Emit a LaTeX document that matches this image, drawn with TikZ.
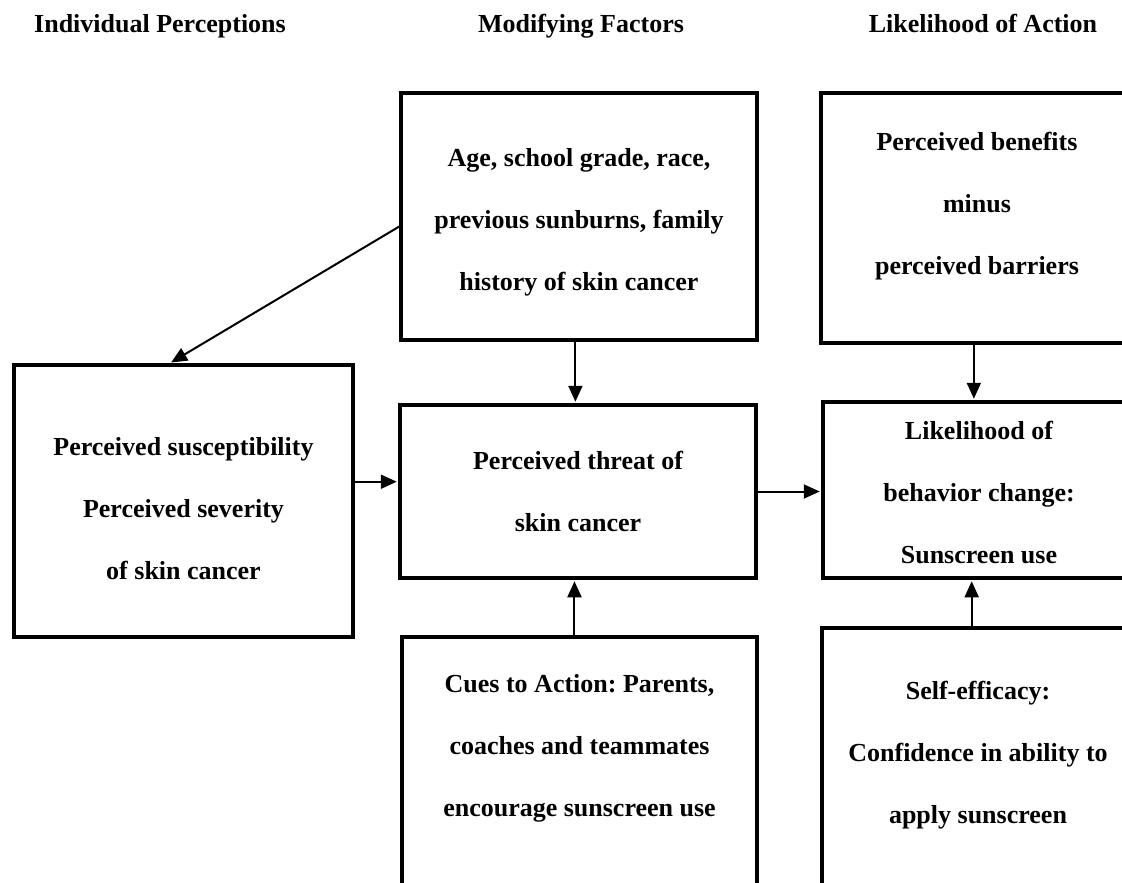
\documentclass[tikz,border=0pt]{standalone}
\usepackage{fontspec}
\setmainfont{Liberation Serif}
\usetikzlibrary{calc,arrows.meta}
\frenchspacing
\begin{document}
\begin{tikzpicture}[x=1pt,y=-1pt,
  txt/.style={font=\fontsize{26}{62}\selectfont\bfseries, align=center},
  box/.style={txt, draw, line width=3.5pt, inner sep=0pt},
  head/.style={font=\fontsize{26}{30}\selectfont\bfseries, anchor=base},
  arr/.style={line width=2pt, -{Triangle[length=16pt,width=14pt]}, shorten >=1.5pt}]
\useasboundingbox (0,0) rectangle (1122,883);
\clip (0,0) rectangle (1122,883);

\node[head] (h1) at (160,33) {Individual Perceptions};
\node[head] (h2) at (581,33) {Modifying Factors};
\node[head] (h3) at (983,33) {Likelihood of Action};

\node[box, minimum width=356pt, minimum height=247pt] (age) at (579,216.5)
  {\rule{0pt}{30pt}Age, school grade, race,\\ previous sunburns, family\\ history of skin cancer};
\node[box, minimum width=312pt, minimum height=250pt] (ben) at (977,218)
  {Perceived benefits\\ minus\\ perceived barriers\rule[-30pt]{0pt}{0pt}};
\node[box, minimum width=339pt, minimum height=272pt] (sus) at (183.5,501)
  {\rule{0pt}{34pt}Perceived susceptibility\\ Perceived severity\\ of skin cancer};
\node[box, minimum width=356pt, minimum height=173pt] (thr) at (578,491.5)
  {Perceived threat of\\ skin cancer};
\node[box, minimum width=312pt, minimum height=176pt] (lik) at (979,490)
  {\rule{0pt}{24pt}Likelihood of\\ behavior change:\\ Sunscreen use};
\node[box, minimum width=355pt, minimum height=290pt] (cue) at (579.5,782)
  {\frenchspacing Cues to Action: Parents,\\ coaches and teammates\\ encourage sunscreen use\\ \rule[-12pt]{0pt}{0pt}};
\node[box, minimum width=312pt, minimum height=290pt] (eff) at (978,773)
  {\rule{0pt}{38pt}Self-efficacy:\\ Confidence in ability to\\ apply sunscreen\\ \rule{0pt}{0pt}};

\coordinate (a1) at ($(age.north west)!0.54!(age.south west)$);
\coordinate (a2) at ($(sus.north west)!0.46!(sus.north east)$);
\draw[arr] (a1) -- (a2);

\coordinate (b1) at ($(age.south west)!0.49!(age.south east)$);
\draw[arr] (b1) -- (b1 |- thr.north);

\coordinate (c1) at ($(sus.north east)!0.43!(sus.south east)$);
\draw[arr] (c1) -- (c1 -| thr.west);

\draw[arr] (thr.east) -- (thr.east -| lik.west);

\coordinate (d1) at ($(ben.south west)!0.49!(ben.south east)$);
\draw[arr] (d1) -- (d1 |- lik.north);

\coordinate (e1) at ($(cue.north west)!0.486!(cue.north east)$);
\draw[arr] (e1) -- (e1 |- thr.south);

\coordinate (f1) at ($(eff.north west)!0.48!(eff.north east)$);
\draw[arr] (f1) -- (f1 |- lik.south);
\end{tikzpicture}
\end{document}
